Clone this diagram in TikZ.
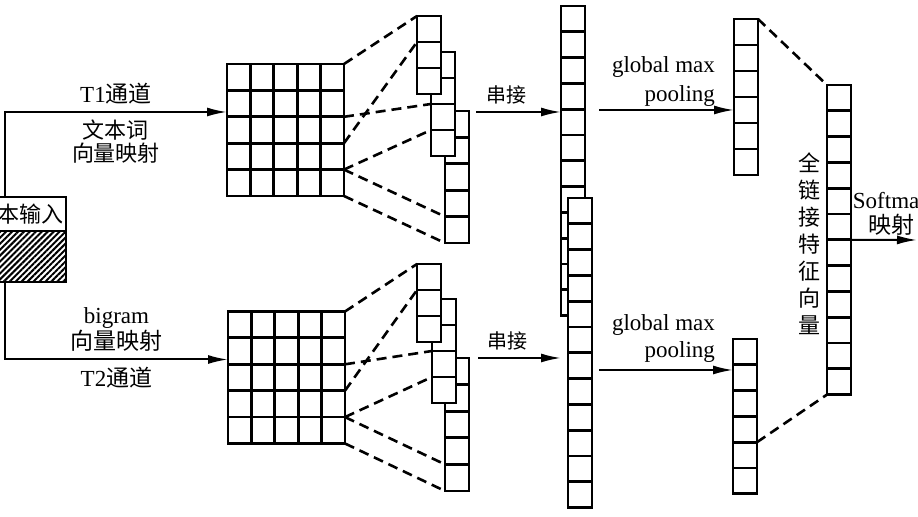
\documentclass[tikz,border=0pt]{standalone}
\usepackage{fontspec}
\setmainfont{Liberation Serif}
\newfontfamily\cjk{Noto Sans CJK SC}
\usetikzlibrary{arrows.meta, calc, positioning, patterns.meta}
\tikzstyle{cellbox}  = [rectangle, draw, line width=1.4pt, fill=white, inner sep=0pt, outer sep=0pt, minimum width=12pt, anchor=north west]
\tikzstyle{cellline} = [draw, line width=1.4pt]
\tikzstyle{gridbox}  = [rectangle, draw, line width=1.4pt, inner sep=0pt, outer sep=0pt, minimum width=58.5pt, minimum height=66pt]
\tikzstyle{inbox}    = [rectangle, draw, line width=1.4pt, inner sep=0pt, outer sep=0pt, minimum width=47pt, minimum height=17pt, font=\cjk\fontsize{11}{11}\selectfont]
\tikzstyle{hatchbox} = [inbox, pattern={Lines[angle=45, distance=2.1pt, line width=1pt]}, minimum height=25.5pt]
\tikzstyle{single}   = [draw, line width=1pt, -{Latex[length=10pt, width=4.5pt]}]
\tikzstyle{window}   = [draw, line width=1.3pt, dash pattern=on 5pt off 3pt]
\tikzstyle{txt}      = [align=center, font=\fontsize{11.5}{11.5}\selectfont]
\begin{document}
\begin{tikzpicture}[x=0.5pt, y=-0.5pt]
    \useasboundingbox (0,0) rectangle (918,517);
    \node[inbox](input) at (19,214) {文本输入};
    \node[hatchbox, below=0pt of input](hatch) {};
    \node[gridbox](gridT) at (285.5,130) {};
    \node[gridbox](gridB) at (286.5,377.5) {};
    \foreach \s in {T,B} {
        \foreach \i in {1,...,4} {
            \path[cellline]($(grid\s.north west)!\i/5!(grid\s.north east)$) -- ($(grid\s.south west)!\i/5!(grid\s.south east)$);
            \path[cellline]($(grid\s.north west)!\i/5!(grid\s.south west)$) -- ($(grid\s.north east)!\i/5!(grid\s.south east)$);
        }
    }
    \path[single]([xshift=-7pt]input.north) |- node[pos=0.75, above, txt]{T1{\cjk 通道}}
        node[pos=0.75, below, txt, font=\cjk\fontsize{11}{11.5}\selectfont]{文本词\\向量映射}([yshift=9pt]gridT.west);
    \path[single]([xshift=-7pt]hatch.south) |- node[pos=0.75, above, txt]{bigram\\{\cjk 向量映射}}
        node[pos=0.75, below, txt]{T2{\cjk 通道}}([yshift=9pt]gridB.west);
    \foreach \name/\px/\py/\n/\h in {winT3/445/111/5/13.2, winT2/431/52/4/13, winT1/417/16/3/13,
        winB3/445/358/5/13.3, winB2/432/299/4/13, winB1/417/264/3/13,
        catT/561/6/12/12.9, catB/568/198/12/12.9,
        poolT/734/19/6/13, poolB/733/339/6/12.9, fc/827/85/12/12.9} {
        \node[cellbox, minimum height=\n*\h pt](\name) at (\px,\py) {};
        \foreach \i in {2,...,\n} {
            \path[cellline]([yshift=-(\i-1)*\h pt]\name.north west) -- ([yshift=-(\i-1)*\h pt]\name.north east);
        }
    }
    \foreach \s in {T,B} {
        \path[window](grid\s.north east) -- (win\s1.north west);
        \path[window]($(grid\s.north east)!0.4!(grid\s.south east)$) -- ($(win\s2.north west)!0.5!(win\s2.south west)$);
        \path[window]($(grid\s.north east)!0.6!(grid\s.south east)$) -- ($(win\s1.north west)!1/3!(win\s1.south west)$);
        \path[window]($(grid\s.north east)!0.8!(grid\s.south east)$) -- ($(win\s2.north west)!0.75!(win\s2.south west)$);
        \path[window]($(grid\s.north east)!0.8!(grid\s.south east)$) -- ($(win\s3.north west)!0.8!(win\s3.south west)$);
        \path[window](grid\s.south east) -- (win\s3.south west);
    }
    \coordinate (joinT) at (476,112);
    \coordinate (joinB) at (478,358);
    \path[single](joinT) -- node[pos=0.36, above, font=\cjk\fontsize{10}{10}\selectfont]{串接}(joinT -| catT.west);
    \path[single](joinB) -- node[pos=0.36, above, font=\cjk\fontsize{10}{10}\selectfont]{串接}(joinB -| catT.west);
    \coordinate (maxT) at (599,110);
    \coordinate (maxB) at (599,370);
    \path[single](maxT) -- (maxT -| poolT.west);
    \path[single](maxB) -- (maxB -| poolB.west);
    \node[txt, align=right, anchor=east, font=\fontsize{11.5}{14.5}\selectfont](maxTlabel) at (722,82) {global max\\pooling};
    \node[txt, align=right, anchor=east, font=\fontsize{11.5}{13.5}\selectfont](maxBlabel) at (722,339) {global max\\pooling};
    \path[window](poolT.north east) -- (fc.north west);
    \path[window]($(poolB.north east)!4/6!(poolB.south east)$) -- (fc.south west);
    \node[font=\cjk\fontsize{11}{13.5}\selectfont, align=center](fclabel) at (809,244) {全\\链\\接\\特\\征\\向\\量};
    \coordinate (outp) at (917,240);
    \path[single](fc.east) -- node[pos=0.62, above, txt, inner sep=2pt, font=\fontsize{11.5}{12.5}\selectfont]{Softmax\\{\cjk 映射}}(outp);
\end{tikzpicture}
\end{document}
